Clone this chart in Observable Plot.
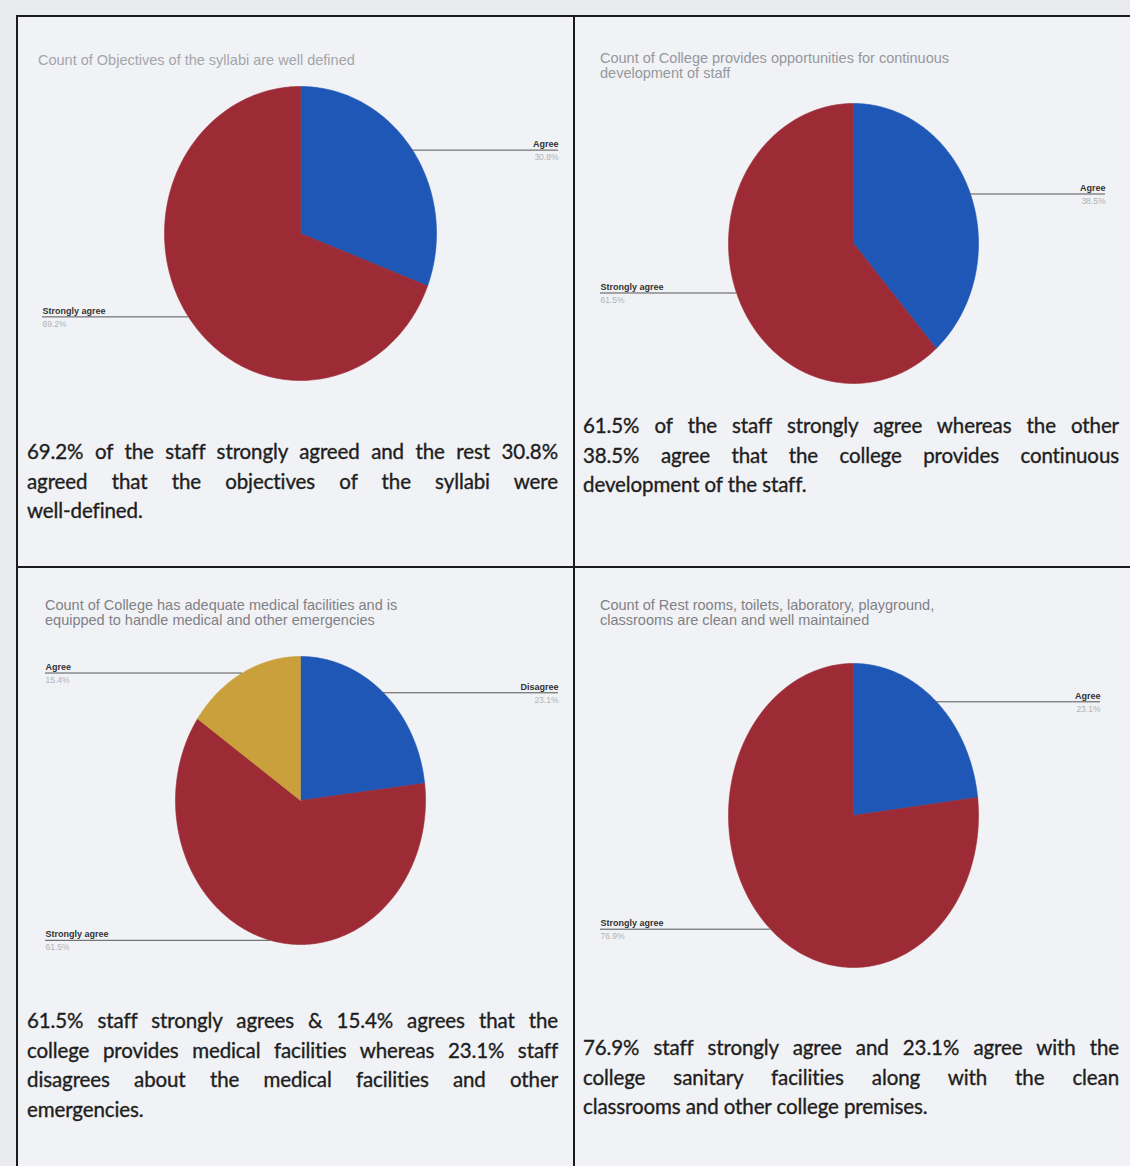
<!DOCTYPE html>
<html>
<head>
<meta charset="utf-8">
<script src="https://cdn.jsdelivr.net/npm/d3@7"></script>
<script src="https://cdn.jsdelivr.net/npm/@observablehq/plot@0.6"></script>
<style>
  html, body { margin: 0; padding: 0; }
  body { width: 1130px; height: 1166px; background: #e9ebef; position: relative; overflow: hidden; }
  .cell { position: absolute; background: #f1f2f5; box-sizing: border-box; }
  .hline, .vline { position: absolute; background: #1c1c1c; }
  .title { position: absolute; font-family: "Liberation Sans", Arial, sans-serif; font-size: 14.5px; line-height: 15px; color: #8d8d8d; white-space: nowrap; }
  .para { position: absolute; font-family: Lato, "Open Sans", sans-serif; font-size: 20.5px; color: #1e1e1e; -webkit-text-stroke: 0.35px #1e1e1e; letter-spacing: -0.1px; }
  .para div { white-space: nowrap; height: 29.5px; line-height: 29.5px; text-align: justify; text-align-last: justify; }
  .para div.last { text-align-last: left; }
  .chart { position: absolute; }
</style>
</head>
<body>
<script>
// ---------------- data ----------------
const chart1Title = ["Count of Objectives of the syllabi are well defined"];
const chart1Labels = ["Agree", "Strongly agree"];
const chart1Values = [30.8, 69.2];
const chart1Text = [
  "69.2% of the staff strongly agreed and the rest 30.8%",
  "agreed that the objectives of the syllabi were",
  "well-defined."
];

const chart2Title = ["Count of College provides opportunities for continuous", "development of staff"];
const chart2Labels = ["Agree", "Strongly agree"];
const chart2Values = [38.5, 61.5];
const chart2Text = [
  "61.5%  of the staff strongly agree whereas the other",
  "38.5% agree that the college provides continuous",
  "development of the staff."
];

const chart3Title = ["Count of College has adequate medical facilities and is", "equipped to handle medical and other emergencies"];
const chart3Labels = ["Disagree", "Strongly agree", "Agree"];
const chart3Values = [23.1, 61.5, 15.4];
const chart3Text = [
  "61.5% staff strongly agrees & 15.4% agrees that the",
  "college provides medical facilities whereas 23.1% staff",
  "disagrees about the medical facilities and other",
  "emergencies."
];

const chart4Title = ["Count of Rest rooms, toilets, laboratory, playground,", "classrooms are clean and well maintained"];
const chart4Labels = ["Agree", "Strongly agree"];
const chart4Values = [23.1, 76.9];
const chart4Text = [
  "76.9% staff strongly agree and 23.1% agree with the",
  "college sanitary facilities along with the clean",
  "classrooms and other college premises."
];

const sliceColors = ["#1f57b6", "#9d2b36", "#c9a03b"];

// ---------------- layout (page pixels) ----------------
const layouts = [
  {title: chart1Title, labels: chart1Labels, values: chart1Values, text: chart1Text,
   cx: 300, cy: 233, rx: 136, ry: 147, labelLeft: 42, labelRight: 558,
   titleX: 38, titleY: 53, titleColor: "#a3a6ab", textX: 27, textY: 437, textW: 531},
  {title: chart2Title, labels: chart2Labels, values: chart2Values, text: chart2Text,
   cx: 853, cy: 243, rx: 125, ry: 140, labelLeft: 600, labelRight: 1105,
   titleX: 600, titleY: 51, titleColor: "#95989d", textX: 583, textY: 411, textW: 536},
  {title: chart3Title, labels: chart3Labels, values: chart3Values, text: chart3Text,
   cx: 300, cy: 800, rx: 125, ry: 144, labelLeft: 45, labelRight: 558,
   titleX: 45, titleY: 598, titleColor: "#7f8186", textX: 27, textY: 1006, textW: 531},
  {title: chart4Title, labels: chart4Labels, values: chart4Values, text: chart4Text,
   cx: 853, cy: 815, rx: 125, ry: 152, labelLeft: 600, labelRight: 1100,
   titleX: 600, titleY: 598, titleColor: "#7f8186", textX: 583, textY: 1033, textW: 536}
];

// ---------------- table frame ----------------
function addDiv(cls, style) {
  const d = document.createElement("div");
  d.className = cls;
  Object.assign(d.style, style);
  document.body.appendChild(d);
  return d;
}
addDiv("cell", {left: "17px", top: "16px", width: "1120px", height: "1160px"});
addDiv("hline", {left: "16px", top: "15px", width: "1120px", height: "2px"});
addDiv("hline", {left: "16px", top: "566px", width: "1120px", height: "2px"});
addDiv("vline", {left: "16px", top: "15px", width: "2px", height: "1160px"});
addDiv("vline", {left: "573px", top: "15px", width: "2px", height: "1160px"});

// ---------------- charts ----------------
function makeSlices(labels, values) {
  const total = d3.sum(values);
  let a0 = 0;
  return labels.map((label, i) => {
    const a1 = a0 + values[i] / total * 2 * Math.PI;
    const s = {label, value: values[i], a0, a1, mid: (a0 + a1) / 2};
    a0 = a1;
    return s;
  });
}

function slicePolygon(s) {
  const pts = [{label: s.label, x: 0, y: 0}];
  const n = Math.max(2, Math.ceil((s.a1 - s.a0) / (Math.PI / 180)));
  for (let k = 0; k <= n; ++k) {
    const a = s.a0 + (s.a1 - s.a0) * k / n;
    pts.push({label: s.label, x: Math.sin(a), y: Math.cos(a)});
  }
  pts.push({label: s.label, x: 0, y: 0});
  return pts;
}

for (const L of layouts) {
  const slices = makeSlices(L.labels, L.values);
  const polys = slices.flatMap(slicePolygon);

  const pad = 5;
  const left = L.labelLeft - pad;
  const W = (L.labelRight + pad) - left;
  const top = L.cy - L.ry - 25;
  const H = 2 * L.ry + 50;
  const xMin = (L.labelLeft - L.cx) / L.rx;
  const xMax = (L.labelRight - L.cx) / L.rx;
  const yMin = -(top + H - L.cy) / L.ry;
  const yMax = (L.cy - top) / L.ry;

  const labelRows = slices.map(s => {
    const right = s.mid < Math.PI;
    const rimX = Math.sin(s.mid), rimY = Math.cos(s.mid);
    return {
      label: s.label,
      pct: s.value.toFixed(1) + "%",
      y: rimY,
      x1: right ? rimX : xMin,
      x2: right ? xMax : rimX,
      tx: right ? xMax : xMin,
      right
    };
  });
  const rightRows = labelRows.filter(d => d.right);
  const leftRows = labelRows.filter(d => !d.right);

  const chart = Plot.plot({
    width: W, height: H,
    marginLeft: pad, marginRight: pad, marginTop: 0, marginBottom: 0,
    x: {domain: [xMin, xMax], axis: null},
    y: {domain: [yMin, yMax], axis: null},
    color: {domain: L.labels, range: sliceColors},
    style: {background: "transparent", fontFamily: "'Liberation Sans', Arial, sans-serif", overflow: "visible"},
    marks: [
      Plot.line(polys, {x: "x", y: "y", z: "label", fill: "label", stroke: "label", strokeWidth: 0.6, curve: "linear"}),
      Plot.ruleY(labelRows, {y: "y", x1: "x1", x2: "x2", stroke: "#555", strokeWidth: 1}),
      Plot.text(rightRows, {x: "tx", y: "y", text: "label", textAnchor: "end", dy: -6, fontSize: 9, fill: "#333", fontWeight: "bold"}),
      Plot.text(rightRows, {x: "tx", y: "y", text: "pct", textAnchor: "end", dy: 7, fontSize: 8.5, fill: "#b0b2b6"}),
      Plot.text(leftRows, {x: "tx", y: "y", text: "label", textAnchor: "start", dy: -6, fontSize: 9, fill: "#333", fontWeight: "bold"}),
      Plot.text(leftRows, {x: "tx", y: "y", text: "pct", textAnchor: "start", dy: 7, fontSize: 8.5, fill: "#b0b2b6"})
    ]
  });
  chart.classList.add("chart");
  chart.style.left = left + "px";
  chart.style.top = top + "px";
  document.body.appendChild(chart);

  const t = addDiv("title", {left: L.titleX + "px", top: L.titleY + "px", color: L.titleColor});
  t.innerHTML = L.title.map(s => s.replace(/&/g, "&amp;")).join("<br>");

  const p = addDiv("para", {left: L.textX + "px", top: L.textY + "px", width: L.textW + "px"});
  L.text.forEach((line, i) => {
    const d = document.createElement("div");
    d.textContent = line;
    if (i === L.text.length - 1) d.className = "last";
    p.appendChild(d);
  });
}
</script>
</body>
</html>
